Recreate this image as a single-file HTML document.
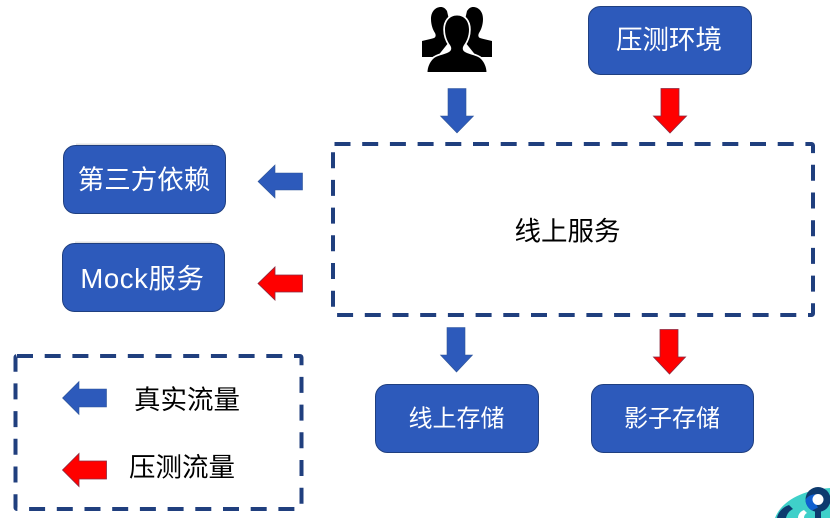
<!DOCTYPE html>
<html>
<head>
<meta charset="utf-8">
<style>
html,body{margin:0;padding:0;background:#fff}
svg{display:block}
text{font-family:"Liberation Sans","Noto Sans CJK SC",sans-serif;text-anchor:middle}
.w{fill:#fff;font-size:26.5px}
.b{fill:#000;font-size:26.5px}
.box{fill:#2d5abb;stroke:#1f3f80;stroke-width:1}
.sh{fill:#000;opacity:.12}
.dash{fill:none;stroke:#203f7e;stroke-width:4;stroke-dasharray:16 11.7}
.ab{fill:#2d5abb;stroke:#2f5597;stroke-width:.6}
.ar{fill:#f00;stroke:#8a2a40;stroke-width:.8}
</style>
</head>
<body>
<svg width="830" height="518" viewBox="0 0 830 518" xmlns="http://www.w3.org/2000/svg">
<rect width="830" height="518" fill="#fff"/>

<!-- people icon -->
<g fill="#000">
<path d="M441 7c-6 0-10 5-10 12 0 6 2 11 4 14 1 2 1 4-1 5-3 1-8 2-12 3v16h15l16-20-6-26c-2-3-4-4-6-4z"/>
<path d="M473 7c6 0 10 5 10 12 0 6-2 11-4 14-1 2-1 4 1 5 3 1 8 2 12 3v16h-15l-16-20 6-26c2-3 4-4 6-4z"/>
<path d="M457 15.500c-7.500 0-12 6-12 14 0 7 2.500 12 5 15.500 2 3 1.500 5.500-1 7-5 3-12 3-16 7-3 3-5.500 8-5.500 13.500h59c0-5.500-2.500-10.500-5.500-13.500-4-4-11-4-16-7-2.500-1.500-3-4-1-7 2.500-3.500 5-8.500 5-15.500 0-8-4.500-14-12-14z" stroke="#fff" stroke-width="3.500" paint-order="stroke"/>
</g>
<rect x="420" y="72" width="74" height="5" fill="#fff"/>

<!-- boxes -->
<rect class="sh" x="76" y="143.500" width="137" height="3"/>
<rect class="sh" x="75" y="241.500" width="137" height="3"/>
<rect class="box" x="588.500" y="6.500" width="163" height="68" rx="12"/>
<text class="w" x="669" y="49">压测环境</text>
<rect class="box" x="63.500" y="145.500" width="162" height="68" rx="12"/>
<text class="w" x="144" y="189">第三方依赖</text>
<rect class="box" x="62.500" y="243.500" width="162" height="68" rx="12"/>
<text class="w" x="142.500" y="288" style="font-size:27.500px;letter-spacing:.6px">Mock服务</text>
<rect class="box" x="375.500" y="384.500" width="163" height="68" rx="12"/>
<text class="w" x="456.500" y="426.500" style="font-size:24px">线上存储</text>
<rect class="box" x="591.500" y="384.500" width="162" height="68" rx="12"/>
<text class="w" x="672" y="426.500" style="font-size:24px">影子存储</text>

<!-- dashed containers -->
<rect class="dash" x="333" y="144" width="480" height="171" rx="1.500"/>
<text class="b" x="567.500" y="240.500">线上服务</text>
<rect class="dash" x="15.500" y="356" width="286" height="153" rx="1.500"/>
<text class="b" x="187" y="409">真实流量</text>
<text class="b" x="182" y="476.500">压测流量</text>

<!-- down arrows -->
<polygon class="ab" points="448,88.500 466,88.500 466,116 473.500,116 457,133 440.500,116 448,116"/>
<polygon class="ar" points="661,88.500 679,88.500 679,116 686.500,116 670,133 653.500,116 661,116"/>
<polygon class="ab" points="447,327.500 465,327.500 465,355 472.500,355 456.500,372 440.500,355 447,355"/>
<polygon class="ar" points="660,329.500 678,329.500 678,357 685.500,357 669.500,374 653.500,357 660,357"/>

<!-- left arrows -->
<polygon class="ab" points="302.500,173 275,173 275,165 258,181.500 275,198 275,190 302.500,190"/>
<polygon class="ar" points="302.500,275 275,275 275,267 258,283.500 275,300 275,292 302.500,292"/>
<polygon class="ab" points="106.500,389 79,389 79,381.500 62.500,398 79,414.500 79,407 106.500,407"/>
<polygon class="ar" points="106.500,461 79,461 79,453.500 62.500,470 79,486.500 79,479 106.500,479"/>

<!-- corner logo -->
<g>
<path d="M775 518c6-16 26-28 55-30v30z" fill="#3fd0c9"/>
<path d="M777 518c1-6 6-11 12-13l4 4c-4 2-6 5-7 9z" fill="#0d3a6e"/>
<circle cx="818" cy="499.500" r="12.500" fill="#0d3a6e"/>
<path d="M805.500 499.500a12.500 12.500 0 0 1 12.500-5v5a6 6 0 0 0 0 8l-6 3a12.500 12.500 0 0 1-6.500-11z" fill="#0f5fd0"/>
<circle cx="818" cy="499.500" r="5.500" fill="#fff"/>
<rect x="815" y="510" width="6" height="8" fill="#0d3a6e"/>
<path d="M798 518c0-4 3-7 6-8l3 3c-2 1-3 3-3 5z" fill="#fff"/>
</g>
</svg>
</body>
</html>
